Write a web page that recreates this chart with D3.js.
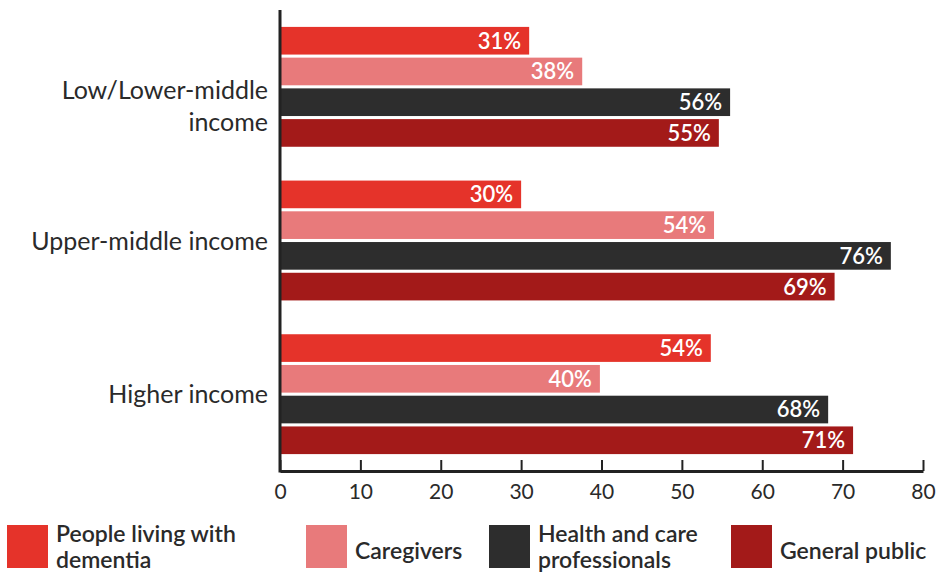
<!DOCTYPE html>
<html>
<head>
<meta charset="utf-8">
<script src="https://cdn.jsdelivr.net/npm/d3@7"></script>
<style>
  html, body { margin: 0; padding: 0; background: #fff; }
  svg { display: block; font-family: "Source Sans Pro", Lato, "Open Sans", sans-serif; }
</style>
</head>
<body>
<svg id="chart" width="938" height="577"></svg>
<script>
// ---- data ----
const categories = [["Low/Lower-middle", "income"], ["Upper-middle income"], ["Higher income"]];
const seriesNames = ["People living with dementia", "Caregivers", "Health and care professionals", "General public"];
const legendLines = [["People living with", "dementia"], ["Caregivers"], ["Health and care", "professionals"], ["General public"]];
const seriesColors = ["#e5332a", "#e87a7b", "#2d2d2d", "#a31a19"];
const plwdValues      = [31, 30, 53.6];
const caregiverValues = [37.6, 54, 39.8];
const healthValues    = [56, 76, 68.2];
const publicValues    = [54.6, 69, 71.3];
const xTicks = [0, 10, 20, 30, 40, 50, 60, 70, 80];

const seriesValues = [plwdValues, caregiverValues, healthValues, publicValues];

const svg = d3.select("#chart");
const x0 = 280, x1 = 923, yTop = 10, yBottom = 471;

const x = d3.scaleLinear().domain([0, 80]).range([x0, x1]);
const y = d3.scaleBand().domain(d3.range(categories.length)).range([yTop, yBottom])
  .paddingInner(0.22).paddingOuter(0.11);
const yInner = d3.scaleBand().domain(d3.range(seriesNames.length)).range([0, y.bandwidth()])
  .paddingInner(0.1);

// bars
const groups = svg.append("g").selectAll("g").data(categories).join("g")
  .attr("transform", (d, i) => `translate(0,${y(i)})`);

groups.each(function(cat, ci) {
  const g = d3.select(this);
  const rows = seriesValues.map((vals, si) => ({ si, v: vals[ci] }));
  g.selectAll("rect").data(rows).join("rect")
    .attr("x", x(0))
    .attr("y", d => yInner(d.si))
    .attr("width", d => x(d.v) - x(0))
    .attr("height", yInner.bandwidth())
    .attr("fill", d => seriesColors[d.si]);
  g.selectAll("text.val").data(rows).join("text")
    .attr("class", "val")
    .attr("x", d => x(d.v) - 8)
    .attr("y", d => yInner(d.si) + yInner.bandwidth() / 2)
    .attr("dy", "0.36em")
    .attr("text-anchor", "end")
    .attr("fill", "#fff")
    .attr("font-size", 22)
    .attr("font-weight", 600)
    .text(d => Math.round(d.v) + "%");
});

// category labels
svg.append("g").selectAll("text").data(categories).join("text")
  .attr("text-anchor", "end")
  .attr("fill", "#2a2a2a")
  .attr("font-size", 25)
  .each(function(lines, i) {
    const t = d3.select(this);
    const cy = y(i) + y.bandwidth() / 2;
    lines.forEach((line, li) => {
      t.append("tspan").attr("x", 268)
        .attr("y", cy + (lines.length > 1 ? 3 : 0) + li * 32)
        .attr("dy", "0.36em").text(line);
    });
  });

// x axis
const xAxis = svg.append("g").attr("transform", `translate(0,${yBottom})`)
  .call(d3.axisBottom(x).tickValues(xTicks).tickSizeInner(-11).tickSizeOuter(0).tickPadding(13));
xAxis.select(".domain").attr("stroke", "#222").attr("stroke-width", 3);
xAxis.selectAll(".tick line").attr("stroke", "#222").attr("stroke-width", 2);
xAxis.selectAll(".tick text").attr("fill", "#2a2a2a").attr("font-size", 21)
  .style("font-family", "\"Source Sans Pro\", Lato, \"Open Sans\", sans-serif");

// y axis line
svg.append("line").attr("x1", x0).attr("x2", x0).attr("y1", yTop).attr("y2", yBottom + 1.5)
  .attr("stroke", "#222").attr("stroke-width", 3);

// legend
const legendX = [7, 306, 489, 731];
const leg = svg.append("g").selectAll("g").data(seriesNames).join("g")
  .attr("transform", (d, i) => `translate(${legendX[i]},525)`);
leg.append("rect").attr("width", 41).attr("height", 43).attr("fill", (d, i) => seriesColors[i]);
leg.append("text")
  .attr("fill", "#2a2a2a").attr("font-size", 23).attr("font-weight", 600)
  .each(function(d, i) {
    const t = d3.select(this);
    const lines = legendLines[i];
    lines.forEach((line, li) => {
      t.append("tspan").attr("x", 49)
        .attr("y", lines.length > 1 ? 17 + li * 26 : 34)
        .text(line);
    });
  });
</script>
</body>
</html>
